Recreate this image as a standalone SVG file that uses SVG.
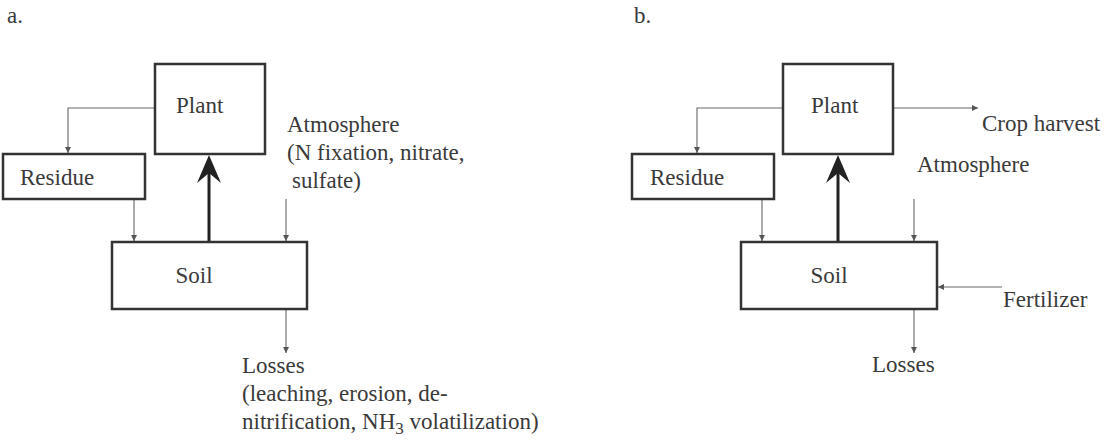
<svg xmlns="http://www.w3.org/2000/svg" width="1114" height="441" viewBox="0 0 1114 441">
<defs>
<style>
.box{fill:#fff;stroke:#333;stroke-width:2.5}
.t{font-family:"Liberation Serif","Times New Roman",serif;font-size:23px;fill:#3a3a3a}
.ln{fill:none;stroke:#666;stroke-width:1.1}
.thick{fill:none;stroke:#222;stroke-width:3}
</style>
<marker id="ah" viewBox="0 0 10 10" refX="10" refY="5" markerWidth="6" markerHeight="6" markerUnits="userSpaceOnUse" orient="auto">
<path d="M0,0 L10,5 L0,10 z" fill="#555"/>
</marker>
</defs>
<rect width="1114" height="441" fill="#fff"/>
<text class="t" x="7" y="23">a.</text>
<text class="t" x="634" y="23">b.</text>

<g id="connectors">
<!-- panel a -->
<polyline class="ln" points="155,108 68,108 68,153" marker-end="url(#ah)"/>
<line class="ln" x1="134" y1="199" x2="134" y2="241" marker-end="url(#ah)"/>
<line class="ln" x1="286" y1="199" x2="286" y2="241" marker-end="url(#ah)"/>
<line class="ln" x1="286" y1="310" x2="286" y2="353" marker-end="url(#ah)"/>
<line class="thick" x1="209" y1="242" x2="209" y2="170"/>
<path d="M209,155 L221,183 L209,173 L197,183 z" fill="#222"/>
<!-- panel b -->
<polyline class="ln" points="783,108 697,108 697,153" marker-end="url(#ah)"/>
<line class="ln" x1="893" y1="108" x2="978" y2="108" marker-end="url(#ah)"/>
<line class="ln" x1="762" y1="199" x2="762" y2="241" marker-end="url(#ah)"/>
<line class="ln" x1="914" y1="199" x2="914" y2="241" marker-end="url(#ah)"/>
<line class="ln" x1="1002" y1="287" x2="938" y2="287" marker-end="url(#ah)"/>
<line class="ln" x1="914" y1="310" x2="914" y2="353" marker-end="url(#ah)"/>
<line class="thick" x1="838" y1="242" x2="838" y2="170"/>
<path d="M838,155 L850,183 L838,173 L826,183 z" fill="#222"/>
</g>

<g id="a-plant"><rect class="box" x="155" y="64" width="110" height="90"/><text class="t" x="176" y="113">Plant</text></g>
<g id="a-residue"><rect class="box" x="3" y="154" width="142" height="45"/><text class="t" x="20" y="185">Residue</text></g>
<g id="a-soil"><rect class="box" x="112" y="242" width="195" height="67"/><text class="t" x="194" y="283" text-anchor="middle">Soil</text></g>
<g id="a-atmosphere">
<text class="t" x="287" y="132">Atmosphere</text>
<text class="t" x="287" y="160">(N fixation, nitrate,</text>
<text class="t" x="292" y="188">sulfate)</text>
</g>
<g id="a-losses">
<text class="t" x="242" y="373">Losses</text>
<text class="t" x="242" y="401">(leaching, erosion, de-</text>
<text class="t" x="242" y="429">nitrification, NH<tspan font-size="17" dy="5">3</tspan><tspan dy="-5"> volatilization)</tspan></text>
</g>

<g id="b-plant"><rect class="box" x="783" y="64" width="110" height="90"/><text class="t" x="811" y="113">Plant</text></g>
<g id="b-residue"><rect class="box" x="632" y="154" width="142" height="45"/><text class="t" x="650" y="185">Residue</text></g>
<g id="b-soil"><rect class="box" x="741" y="242" width="196" height="67"/><text class="t" x="829" y="283" text-anchor="middle">Soil</text></g>
<g id="b-crop"><text class="t" x="982" y="131">Crop harvest</text></g>
<g id="b-atmosphere"><text class="t" x="917" y="172">Atmosphere</text></g>
<g id="b-fertilizer"><text class="t" x="1003" y="307">Fertilizer</text></g>
<g id="b-losses"><text class="t" x="872" y="372">Losses</text></g>
</svg>
